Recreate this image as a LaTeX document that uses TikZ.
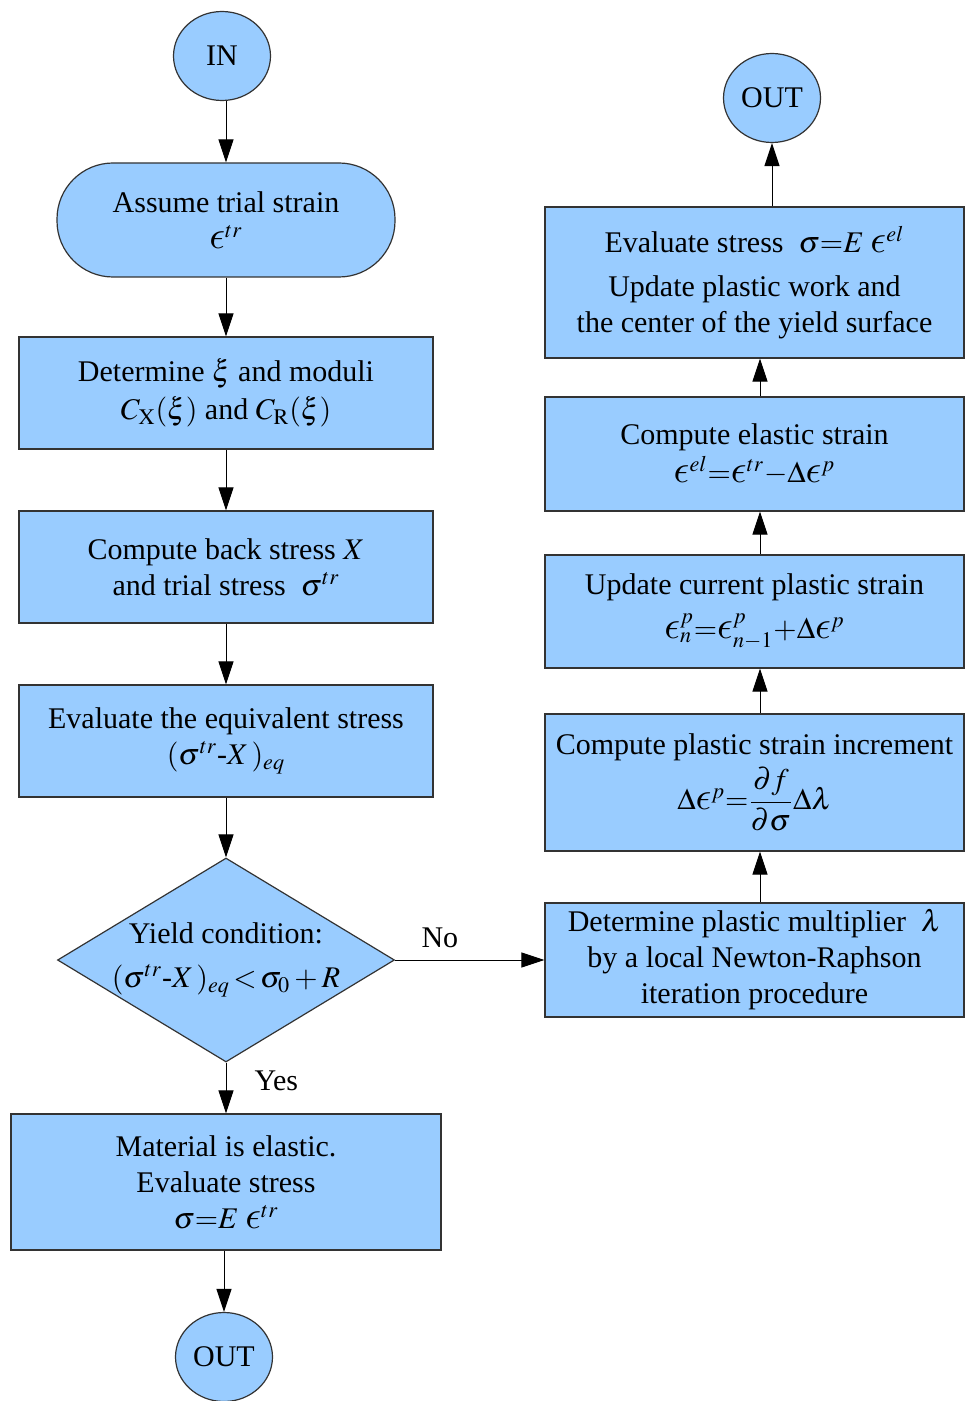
\documentclass[tikz,border=0pt]{standalone}
\usepackage{mathptmx}
\usepackage{fontspec}
\setmainfont{Liberation Serif}
\usetikzlibrary{shapes.geometric,arrows.meta}
\definecolor{boxblue}{HTML}{99CCFF}
\definecolor{boxline}{HTML}{333333}
\DeclareFontFamily{OML}{bigcmm}{\skewchar\font'177}
\DeclareFontShape{OML}{bigcmm}{m}{it}{<-> s*[1.3] cmmi10}{}
\DeclareSymbolFont{cmletters}{OML}{bigcmm}{m}{it}
\DeclareMathSymbol{\lunep}{\mathord}{cmletters}{"0F}

\begin{document}
\begin{tikzpicture}[x=0.5pt,y=-0.5pt,
    font=\fontsize{15}{18}\selectfont,
    terminal/.style={ellipse,draw=boxline,fill=boxblue,line width=0.6pt,minimum width=48.5pt,minimum height=44.5pt,inner sep=0pt},
    startbox/.style={draw=boxline,fill=boxblue,line width=0.6pt,rounded corners=28pt,minimum width=169pt,minimum height=57pt,align=center},
    procbox/.style={draw=boxline,fill=boxblue,line width=0.6pt,minimum width=207pt,minimum height=56pt,align=center,inner xsep=0pt,inner ysep=2pt},
    rbox/.style={procbox,minimum width=209.5pt},
    decision/.style={diamond,draw=boxline,fill=boxblue,line width=0.6pt,minimum width=168.5pt,minimum height=102pt,inner sep=0pt},
    flow/.style={line width=0.5pt,-{Triangle[length=11.5pt,width=7.5pt]}}]
            \useasboundingbox (0,0) rectangle (965,1401);
            % left column
            \node[terminal] (in) at (222,56) {IN};
            \node[startbox] (trial) at (226,220) {Assume trial strain\\ $\lunep^{tr}$};
            \node[procbox] (moduli) at (226,393) {Determine $\xi$ and moduli\\[1pt] $C_{\mathrm{X}}(\xi)$ and $C_{\mathrm{R}}(\xi)$};
            \node[procbox] (back) at (226,567) {Compute back stress $X$\\ and trial stress\ \ $\sigma^{tr}$};
            \node[procbox] (eqv) at (226,741) {Evaluate the equivalent stress\\ $(\sigma^{tr}\mbox{-}X\,)_{eq}$};
            \node[decision] (yield) at (226,960) {};
            \node[align=center] (yieldtxt) at (yield) {Yield condition:\\[4pt] $(\sigma^{tr}\mbox{-}X\,)_{eq}\,{<}\,\sigma_0+R$};
            \node[procbox,minimum width=215pt,minimum height=68pt] (elastic) at (226,1182) {Material is elastic.\\ Evaluate stress\\ $\sigma{=}E\;\lunep^{tr}$};
            \node[terminal] (outl) at (224,1357) {OUT};
            % right column
            \node[rbox,minimum height=57pt] (mult) at (754.5,960) {Determine plastic multiplier\ \ $\lambda$\\ by a local Newton-Raphson\\ iteration procedure};
            \node[rbox,minimum height=68.5pt] (incr) at (754.5,782.5) {Compute plastic strain increment\\[2pt] $\Delta\lunep^{p}{=}{\displaystyle\frac{\partial f}{\partial\sigma}}\Delta\lambda$};
            \node[rbox,minimum height=56.5pt] (upd) at (754.5,611.5) {Update current plastic strain\\[4pt] $\lunep^p_n{=}\lunep^p_{n-1}{+}\Delta\lunep^p$};
            \node[rbox,minimum height=57pt] (elstr) at (754.5,454) {Compute elastic strain\\[1pt] $\lunep^{el}{=}\lunep^{tr}{-}\Delta\lunep^p$};
            \node[rbox,minimum height=75.5pt] (stress) at (754.5,282.5) {Evaluate stress\ \ $\sigma{=}E\;\lunep^{el}$\\[4pt] Update plastic work and\\ the center of the yield surface};
            \node[terminal] (outr) at (772,98) {OUT};
            \coordinate (rcol) at (760,0);
            % connectors
            \draw[flow] (in.south -| trial) -- (trial);
            \draw[flow] (trial) -- (moduli);
            \draw[flow] (moduli) -- (back);
            \draw[flow] (back) -- (eqv);
            \draw[flow] (eqv) -- (yield);
            \draw[flow] (yield) -- node[pos=0.35,right=14pt,inner sep=0pt] {Yes} (elastic);
            \draw[flow] (elastic.south -| outl) -- (outl);
            \draw[flow] (yield) -- node[pos=0.3,above=6pt,inner sep=0pt] {No} (mult);
            \draw[flow] (mult.north -| rcol) -- (incr.south -| rcol);
            \draw[flow] (incr.north -| rcol) -- (upd.south -| rcol);
            \draw[flow] (upd.north -| rcol) -- (elstr.south -| rcol);
            \draw[flow] (elstr.north -| rcol) -- (stress.south -| rcol);
            \draw[flow] (stress.north -| outr) -- (outr);
        \end{tikzpicture}
\end{document}
